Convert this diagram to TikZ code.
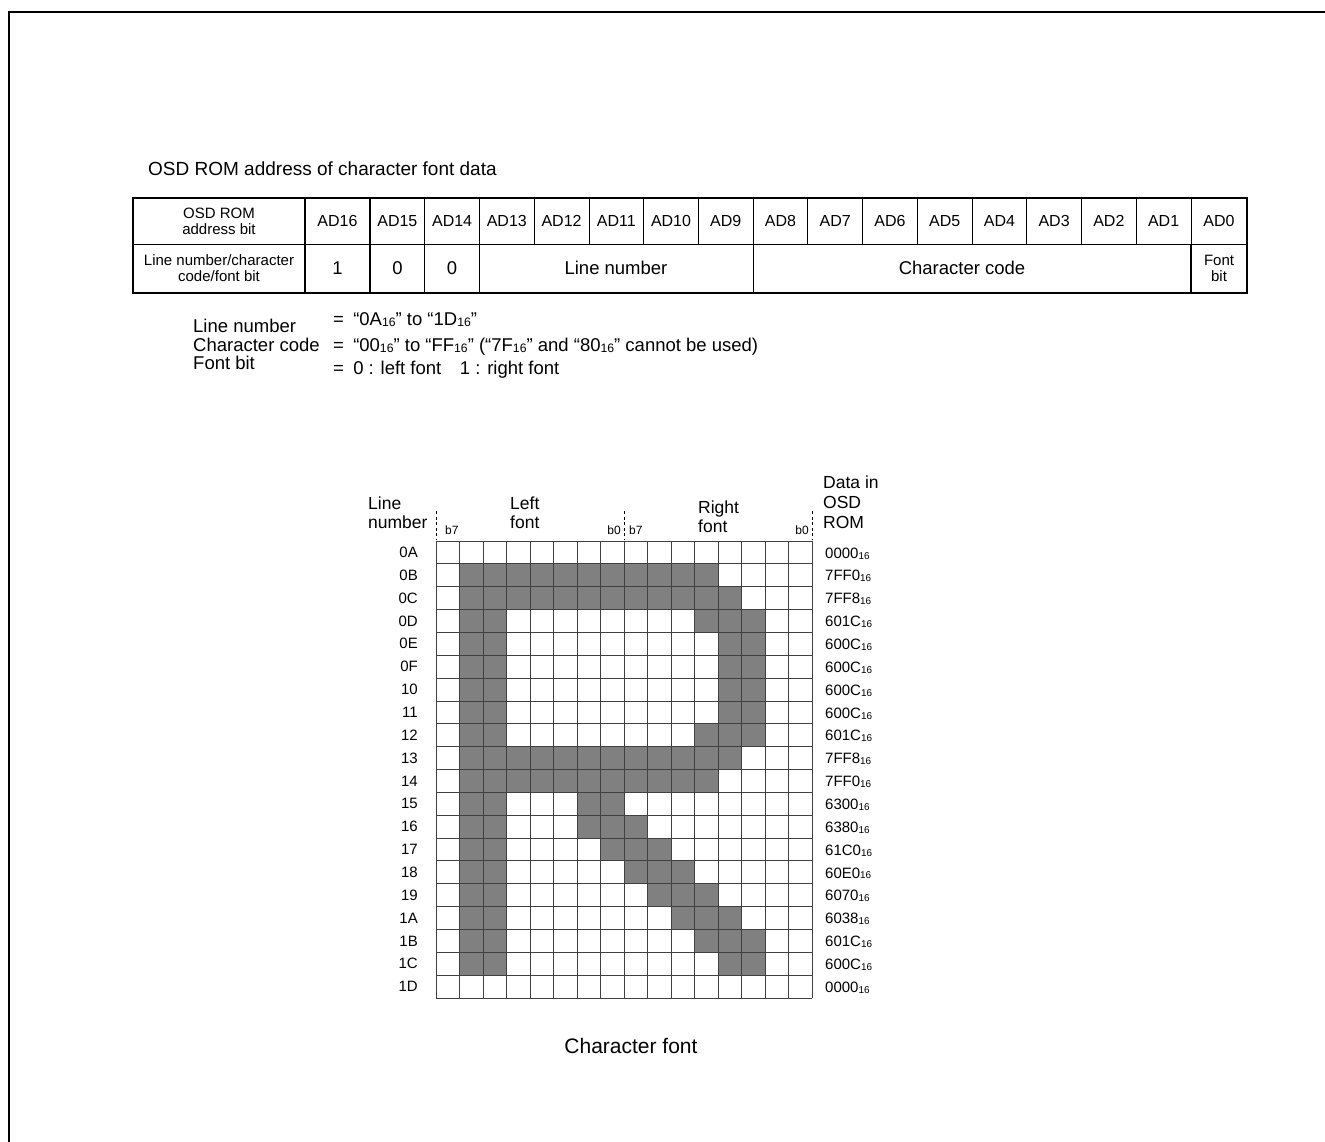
\documentclass[tikz,border=0pt]{standalone}
\usepackage{fontspec}
\usepackage{graphicx}
\setmainfont{Liberation Sans}
\usetikzlibrary{positioning}
\definecolor{pixelgray}{HTML}{808080}
\definecolor{gridline}{HTML}{404040}
\newcommand{\fsz}[1]{\fontsize{#1}{#1}\selectfont}
\newcommand{\hexsub}[1]{#1\raisebox{-0.12ex}{\scalebox{0.66}{16}}}

\begin{document}
\begin{tikzpicture}[x=1pt, y=-1pt, every node/.style={inner sep=0pt, align=center}]
    \tikzset{tabletext/.style={font=\fsz{16}}, tablebig/.style={font=\fsz{18.5}}, tablesmall/.style={font=\fontsize{15}{16}\selectfont},
      notetext/.style={anchor=base west, font=\fsz{18.5}}, headtext/.style={anchor=north west, align=left, font=\fontsize{17.5}{18.5}\selectfont},
      bitmark/.style={font=\fsz{12}}, rowlabel/.style={anchor=east, font=\fsz{15}}, datalabel/.style={anchor=west, font=\fsz{15}},
      tick/.style={line width=0.9pt, dash pattern=on 3pt off 2.5pt}}
    \useasboundingbox (0,0) rectangle (1325,1142);
    % frame
    \draw[line width=2.5pt] (9,1142) -- (9,12) -- (1325,12);
    \node[anchor=base west, font=\fsz{19}] (title) at (148,176) {OSD ROM address of character font data};
    % address table
    \draw[line width=1.8pt] (133,198) rectangle (1247,293);
    \draw[line width=0.8pt] (133,244) -- (1247,244);
    \draw[line width=1.4pt] (305,198) -- (305,293);
    \draw[line width=1.8pt] (370,198) -- (370,293);
    \foreach \k in {1,...,15}
      \draw[line width=0.8pt] ({370+\k*54.73},198) -- ({370+\k*54.73},244);
    \foreach \k in {1,2,7,15}
      \draw[line width=1.2pt] ({370+\k*54.73},244) -- ({370+\k*54.73},293);
    \node[tablesmall] (addrhead) at (219,221) {OSD ROM\\address bit};
    \node[tablesmall] (datahead) at (219,268) {Line number/character\\code/font bit};
    \node[tabletext] (ad16) at (337.5,221) {AD16};
    \foreach \k in {0,...,14} {
      \pgfmathtruncatemacro{\bit}{15-\k}
      \node[tabletext] (ad\bit) at ({370+(\k+0.5)*54.73},221) {AD\bit};
    }
    \node[tabletext] (ad0) at (1219,221) {AD0};
    \node[tablebig] (v16) at (337.5,268) {1};
    \node[tablebig] (v15) at (397.4,268) {0};
    \node[tablebig] (v14) at (452.1,268) {0};
    \node[tablebig] (vline) at (616,268) {Line number};
    \node[tablebig] (vcode) at (962,268) {Character code};
    \node[tablesmall] (vfont) at (1219,268) {Font\\bit};
    % notes
    \node[notetext] (nline) at (193,332) {Line number};
    \node[notetext] (ncode) at (193,351) {Character code};
    \node[notetext] (nfont) at (193,369) {Font bit};
    \node[notetext] (eline) at (333,325) {=\enspace“\hexsub{0A}” to “\hexsub{1D}”};
    \node[notetext] (ecode) at (333,351) {=\enspace“\hexsub{00}” to “\hexsub{FF}” (“\hexsub{7F}” and “\hexsub{80}” cannot be used)};
    \node[notetext] (efont) at (333,374) {=\enspace 0 : left font\quad 1 : right font};
    % character font grid
    \def\gx{436} \def\gy{541} \def\cw{23.5} \def\ch{22.85}
    \foreach \r/\a/\b in {1/1/11, 2/1/12, 3/1/2, 3/11/13, 4/1/2, 4/12/13, 5/1/2, 5/12/13, 6/1/2, 6/12/13, 7/1/2, 7/12/13,
      8/1/2, 8/11/13, 9/1/12, 10/1/11, 11/1/2, 11/6/7, 12/1/2, 12/6/8, 13/1/2, 13/7/9, 14/1/2, 14/8/10,
      15/1/2, 15/9/11, 16/1/2, 16/10/12, 17/1/2, 17/11/13, 18/1/2, 18/12/13}
      \fill[pixelgray] ({\gx+\a*\cw},{\gy+\r*\ch}) rectangle ({\gx+(\b+1)*\cw},{\gy+(\r+1)*\ch});
    \foreach \c in {0,...,16}
      \draw[gridline, line width=0.9pt] ({\gx+\c*\cw},\gy) -- ({\gx+\c*\cw},{\gy+20*\ch});
    \foreach \r in {0,...,20}
      \draw[gridline, line width=0.9pt] (\gx,{\gy+\r*\ch}) -- ({\gx+16*\cw},{\gy+\r*\ch});
    \foreach \r/\ln/\dat in {0/0A/0000, 1/0B/7FF0, 2/0C/7FF8, 3/0D/601C, 4/0E/600C, 5/0F/600C, 6/10/600C,
      7/11/600C, 8/12/601C, 9/13/7FF8, 10/14/7FF0, 11/15/6300, 12/16/6380, 13/17/61C0, 14/18/60E0,
      15/19/6070, 16/1A/6038, 17/1B/601C, 18/1C/600C, 19/1D/0000} {
      \node[rowlabel] (ln\r) at (418,{\gy+(\r+0.5)*\ch}) {\ln};
      \node[datalabel] (rom\r) at (825,{\gy+(\r+0.5)*\ch+1}) {\hexsub{\dat}};
    }
    % header
    \node[headtext] (linehead) at (368,497) {Line\\number};
    \node[headtext] (lefthead) at (510,497) {Left\\font};
    \node[headtext] (righthead) at (698,501) {Right\\font};
    \node[headtext, font=\fontsize{17.5}{20}\selectfont] (romhead) at (823,476) {Data in\\OSD\\ROM};
    \node[bitmark, anchor=west] (lb7) at (445,530) {b7};
    \node[bitmark, anchor=east] (lb0) at (621,530) {b0};
    \node[bitmark, anchor=west] (rb7) at (629,530) {b7};
    \node[bitmark, anchor=east] (rb0) at (809,530) {b0};
    \foreach \c in {0,8,16}
      \draw[tick] ({\gx+\c*\cw},511) -- ({\gx+\c*\cw},539);
    \node[font=\fsz{21}] (caption) at (631,1046) {Character font};
\end{tikzpicture}
\end{document}
